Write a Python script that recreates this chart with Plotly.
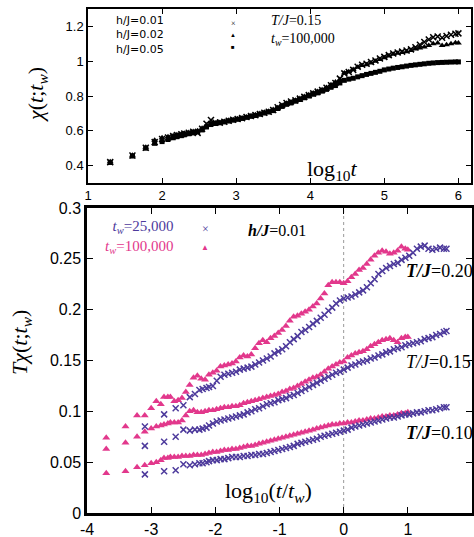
import numpy as np
import plotly.graph_objects as go

# ---------------- data ----------------
# time grid, log10(t)
log_t = [1.30, 1.60, 1.78, 1.90, 2.00, 2.08, 2.15, 2.20, 2.26, 2.30,
         2.36, 2.42, 2.48, 2.54, 2.60, 2.66, 2.72, 2.78, 2.84, 2.90,
         2.96, 3.02, 3.08, 3.14, 3.20, 3.26, 3.32, 3.38, 3.44, 3.50,
         3.56, 3.62, 3.68, 3.74, 3.80, 3.86, 3.92, 3.98, 4.04, 4.10,
         4.16, 4.22, 4.28, 4.34, 4.40, 4.46, 4.52, 4.58, 4.64, 4.70,
         4.76, 4.82, 4.88, 4.94, 5.00, 5.06, 5.12, 5.18, 5.24, 5.30,
         5.36, 5.42, 5.48, 5.54, 5.60, 5.66, 5.72, 5.78, 5.84, 5.90,
         5.96, 6.00]

# top panel: chi(t;tw), T/J=0.15, tw=100,000
chi_h001 = [0.420, 0.458, 0.503, 0.535, 0.553, 0.562, 0.570, 0.575, 0.580, 0.584,
            0.589, 0.594, 0.588, 0.612, 0.640, 0.662, 0.648, 0.647, 0.652, 0.658,
            0.663, 0.668, 0.673, 0.679, 0.685, 0.690, 0.697, 0.704, 0.710, 0.720,
            0.735, 0.748, 0.760, 0.768, 0.775, 0.785, 0.795, 0.805, 0.815, 0.825,
            0.835, 0.847, 0.862, 0.875, 0.900, 0.930, 0.938, 0.950, 0.968, 0.980,
            0.985, 0.995, 1.004, 1.015, 1.025, 1.035, 1.044, 1.050, 1.055, 1.062,
            1.068, 1.080, 1.095, 1.110, 1.125, 1.138, 1.142, 1.135, 1.145, 1.152,
            1.158, 1.160]
chi_h002 = [0.422, 0.460, 0.505, 0.545, 0.560, 0.566, 0.572, 0.577, 0.582, 0.586,
            0.590, 0.596, 0.600, 0.615, 0.632, 0.643, 0.645, 0.648, 0.654, 0.660,
            0.664, 0.669, 0.674, 0.680, 0.686, 0.692, 0.699, 0.706, 0.712, 0.722,
            0.733, 0.746, 0.758, 0.766, 0.776, 0.786, 0.797, 0.807, 0.817, 0.826,
            0.836, 0.849, 0.864, 0.880, 0.895, 0.932, 0.940, 0.952, 0.965, 0.975,
            0.980, 0.990, 1.000, 1.010, 1.020, 1.030, 1.040, 1.045, 1.050, 1.055,
            1.062, 1.070, 1.076, 1.082, 1.090, 1.100, 1.104, 1.090, 1.095, 1.100,
            1.106, 1.104]
chi_h005 = [0.418, 0.455, 0.500, 0.528, 0.538, 0.550, 0.560, 0.566, 0.572, 0.577,
            0.583, 0.588, 0.594, 0.605, 0.622, 0.636, 0.642, 0.646, 0.651, 0.656,
            0.661, 0.666, 0.671, 0.677, 0.683, 0.688, 0.695, 0.702, 0.708, 0.716,
            0.728, 0.740, 0.752, 0.760, 0.770, 0.780, 0.790, 0.800, 0.810, 0.818,
            0.828, 0.838, 0.850, 0.860, 0.875, 0.890, 0.897, 0.902, 0.910, 0.917,
            0.924, 0.930, 0.936, 0.942, 0.950, 0.955, 0.960, 0.964, 0.968, 0.972,
            0.976, 0.979, 0.982, 0.985, 0.988, 0.990, 0.992, 0.993, 0.994, 0.995,
            0.996, 0.996]

# bottom panel: T*chi(t;tw), h/J=0.01
tw_short = 25000
tw_long = 100000
tchi_T010_tw25k = [0.038, 0.041, 0.042, 0.048, 0.047, 0.048, 0.049, 0.049, 0.050, 0.051,
                   0.052, 0.052, 0.053, 0.053, 0.054, 0.055, 0.055, 0.055, 0.056, 0.056,
                   0.057, 0.057, 0.058, 0.058, 0.059, 0.060, 0.061, 0.062, 0.063, 0.064,
                   0.065, 0.066, 0.068, 0.069, 0.070, 0.071, 0.072, 0.073, 0.075, 0.076,
                   0.077, 0.078, 0.079, 0.080, 0.081, 0.082, 0.084, 0.085, 0.086, 0.087,
                   0.088, 0.089, 0.090, 0.091, 0.092, 0.093, 0.094, 0.094, 0.095, 0.096,
                   0.097, 0.097, 0.098, 0.099, 0.099, 0.100, 0.101, 0.101, 0.102, 0.103,
                   0.104, 0.104]
tchi_T010_tw100k = [0.039, 0.041, 0.045, 0.047, 0.049, 0.050, 0.052, 0.054, 0.054, 0.055,
                    0.055, 0.055, 0.056, 0.056, 0.056, 0.057, 0.057, 0.057, 0.058, 0.059,
                    0.060, 0.060, 0.061, 0.062, 0.062, 0.063, 0.063, 0.064, 0.065, 0.066,
                    0.066, 0.067, 0.068, 0.069, 0.070, 0.071, 0.072, 0.073, 0.074, 0.075,
                    0.076, 0.077, 0.078, 0.079, 0.080, 0.081, 0.082, 0.083, 0.084, 0.085,
                    0.086, 0.087, 0.087, 0.088, 0.088, 0.089, 0.089, 0.090, 0.091, 0.091,
                    0.092, 0.093, 0.093, 0.094, 0.095, 0.095, 0.096, 0.096, 0.097, 0.098,
                    0.098, 0.099]
tchi_T015_tw25k = [0.066, 0.070, 0.075, 0.082, 0.081, 0.082, 0.082, 0.083, 0.084, 0.086,
                   0.088, 0.090, 0.091, 0.092, 0.093, 0.094, 0.095, 0.096, 0.097, 0.099,
                   0.100, 0.102, 0.103, 0.105, 0.107, 0.108, 0.109, 0.111, 0.112, 0.113,
                   0.115, 0.116, 0.118, 0.120, 0.122, 0.124, 0.126, 0.128, 0.130, 0.132,
                   0.134, 0.136, 0.138, 0.139, 0.141, 0.143, 0.145, 0.146, 0.148, 0.149,
                   0.150, 0.152, 0.153, 0.155, 0.156, 0.158, 0.159, 0.161, 0.162, 0.163,
                   0.165, 0.166, 0.167, 0.168, 0.169, 0.171, 0.172, 0.173, 0.175, 0.176,
                   0.178, 0.179]
tchi_T015_tw100k = [0.063, 0.069, 0.075, 0.080, 0.083, 0.085, 0.086, 0.087, 0.088, 0.089,
                    0.089, 0.089, 0.091, 0.096, 0.100, 0.101, 0.099, 0.099, 0.100, 0.101,
                    0.101, 0.102, 0.103, 0.104, 0.104, 0.105, 0.105, 0.106, 0.108, 0.109,
                    0.110, 0.111, 0.112, 0.113, 0.114, 0.115, 0.116, 0.117, 0.119, 0.120,
                    0.122, 0.123, 0.125, 0.127, 0.129, 0.131, 0.133, 0.134, 0.136, 0.139,
                    0.142, 0.144, 0.146, 0.148, 0.149, 0.153, 0.155, 0.157, 0.158, 0.159,
                    0.161, 0.164, 0.166, 0.168, 0.170, 0.171, 0.172, 0.170, 0.168, 0.172,
                    0.173, 0.173]
tchi_T020_tw25k = [0.085, 0.097, 0.103, 0.106, 0.114, 0.117, 0.121, 0.122, 0.123, 0.124,
                   0.125, 0.130, 0.134, 0.136, 0.137, 0.138, 0.139, 0.141, 0.142, 0.143,
                   0.144, 0.146, 0.148, 0.150, 0.152, 0.154, 0.157, 0.159, 0.161, 0.164,
                   0.168, 0.171, 0.174, 0.178, 0.180, 0.183, 0.186, 0.189, 0.192, 0.195,
                   0.199, 0.202, 0.206, 0.209, 0.211, 0.212, 0.213, 0.215, 0.217, 0.219,
                   0.222, 0.226, 0.230, 0.235, 0.238, 0.241, 0.243, 0.245, 0.246, 0.249,
                   0.251, 0.253, 0.256, 0.260, 0.262, 0.263, 0.260, 0.259, 0.260, 0.261,
                   0.260, 0.260]
tchi_T020_tw100k = [0.074, 0.085, 0.096, 0.096, 0.103, 0.110, 0.107, 0.114, 0.114, 0.114,
                    0.110, 0.111, 0.113, 0.119, 0.126, 0.133, 0.135, 0.132, 0.131, 0.136,
                    0.138, 0.140, 0.144, 0.145, 0.146, 0.147, 0.149, 0.153, 0.155, 0.154,
                    0.156, 0.162, 0.167, 0.170, 0.168, 0.172, 0.174, 0.177, 0.180, 0.184,
                    0.189, 0.193, 0.194, 0.196, 0.198, 0.200, 0.203, 0.206, 0.211, 0.216,
                    0.224, 0.227, 0.227, 0.227, 0.226, 0.228, 0.232, 0.235, 0.239, 0.241,
                    0.245, 0.249, 0.253, 0.256, 0.258, 0.257, 0.255, 0.256, 0.258, 0.262,
                    0.260, 0.259]

top_xticks = [1, 2, 3, 4, 5, 6]
top_yticks = [0.4, 0.6, 0.8, 1.0, 1.2]
top_ytext = ["0.4", "0.6", "0.8", "1", "1.2"]
bot_xticks = [-4, -3, -2, -1, 0, 1, 2]
bot_xtext = ["-4", "-3", "-2", "-1", "0", "1", "2"]
bot_yticks = [0, 0.05, 0.1, 0.15, 0.2, 0.25, 0.3]
bot_ytext = ["0", "0.05", "0.1", "0.15", "0.2", "0.25", "0.3"]

# ---------------- style ----------------
PURPLE = "#4d3a9c"
PINK = "#e2388c"
W, H = 474, 537
SANS = "Liberation Sans, Arial, sans-serif"
SERIF = "Liberation Serif, Times New Roman, serif"

lt = np.array(log_t)
x_short = lt - np.log10(tw_short)
x_long = lt - np.log10(tw_long)

fig = go.Figure()

# top panel
top_series = [
    (chi_h005, "square", 5, 0),
    (chi_h002, "triangle-up", 6, 0),
    (chi_h001, "x-thin", 6, 1.5),
]
for ys, sym, sz, lw in top_series:
    fig.add_trace(go.Scatter(
        x=lt, y=ys, mode="markers", xaxis="x", yaxis="y",
        marker=dict(symbol=sym, size=sz, color="black",
                    line=dict(color="black", width=lw)),
        showlegend=False, hoverinfo="skip"))

# bottom panel
for ys in [tchi_T010_tw100k, tchi_T015_tw100k, tchi_T020_tw100k]:
    fig.add_trace(go.Scatter(
        x=x_long, y=ys, mode="markers", xaxis="x2", yaxis="y2",
        marker=dict(symbol="triangle-up", size=7, color=PINK, line=dict(width=0)),
        showlegend=False, hoverinfo="skip"))
for ys in [tchi_T010_tw25k, tchi_T015_tw25k, tchi_T020_tw25k]:
    fig.add_trace(go.Scatter(
        x=x_short, y=ys, mode="markers", xaxis="x2", yaxis="y2",
        marker=dict(symbol="x-thin", size=6, color=PURPLE,
                    line=dict(color=PURPLE, width=1.5)),
        showlegend=False, hoverinfo="skip"))

def px(v):
    return v / W

def py(v):
    return 1 - v / H

ax_common = dict(showgrid=False, zeroline=False, showline=True, mirror="allticks",
                 ticks="inside", linecolor="black", tickcolor="black", automargin=False)

fig.update_layout(
    width=W, height=H, autosize=False, margin=dict(l=0, r=0, t=0, b=0, pad=0),
    paper_bgcolor="white", plot_bgcolor="white",
    xaxis=dict(domain=[px(88), px(471)], range=[1, 6.17], anchor="y",
               tickvals=top_xticks, ticktext=[str(v) for v in top_xticks],
               linewidth=1.5, ticklen=5, tickwidth=1,
               tickfont=dict(family=SANS, size=13, color="black"), **ax_common),
    yaxis=dict(domain=[py(183), py(9)], range=[0.3, 1.3], anchor="x",
               tickvals=top_yticks, ticktext=top_ytext,
               linewidth=1.5, ticklen=5, tickwidth=1,
               tickfont=dict(family=SANS, size=13, color="black"), **ax_common),
    xaxis2=dict(domain=[px(87), px(472)], range=[-4, 2], anchor="y2",
                tickvals=bot_xticks, ticktext=bot_xtext,
                linewidth=2.5, ticklen=6, tickwidth=1,
                tickfont=dict(family=SANS, size=16, color="black"), **ax_common),
    yaxis2=dict(domain=[py(513), py(208)], range=[0, 0.3], anchor="x2",
                tickvals=bot_yticks, ticktext=bot_ytext,
                linewidth=2.5, ticklen=6, tickwidth=1,
                tickfont=dict(family=SANS, size=16, color="black"), **ax_common),
)

# dotted reference line at log10(t/tw)=0
fig.add_shape(type="line", xref="x2", yref="y2 domain", x0=0, x1=0, y0=0, y1=1,
              line=dict(color="#9a9a9a", width=1, dash="dot"), layer="below")

def ann(text, x, y, size, color="black", family=SERIF, xanchor="left", angle=0, align="left"):
    fig.add_annotation(text=text, x=px(x), y=py(y), xref="paper", yref="paper",
                       xanchor=xanchor, yanchor="middle", showarrow=False, align=align,
                       textangle=angle, borderpad=0,
                       font=dict(family=family, size=size, color=color))

# top labels
ann("<i>χ</i>(<i>t</i>;<i>t</i><sub><i>w</i></sub>)", 37, 95, 22, xanchor="center", angle=-90)
ann("log<sub>10</sub><i>t</i>", 332, 170, 22, xanchor="center")
ann("h/J=0.01<br>h/J=0.02<br>h/J=0.05", 115, 35, 11, family="DejaVu Sans, sans-serif")
ann("×", 233, 24, 8, xanchor="center")
ann("▲", 233, 35, 6, xanchor="center")
ann("■", 233, 47, 6, xanchor="center")
ann("<i>T/J</i>=0.15<br><i>t<sub>w</sub></i>=100,000", 270, 31, 14)

# bottom labels
ann("<i>T</i><i>χ</i>(<i>t</i>;<i>t</i><sub><i>w</i></sub>)", 21, 343, 22, xanchor="center", angle=-90)
ann("log<sub>10</sub>(<i>t</i>/<i>t</i><sub><i>w</i></sub>)", 268, 492, 22, xanchor="center")
ann(f"<span style='color:{PURPLE}'><i>t<sub>w</sub></i>=25,000</span><br>"
    f"<span style='color:{PINK}'><i>t<sub>w</sub></i>=100,000</span>",
    174, 237, 15, xanchor="right", align="right")
ann("×", 205, 229, 12, color=PURPLE, xanchor="center")
ann("▲", 205, 247, 8, color=PINK, xanchor="center")
ann("<b><i>h/J</i></b>=0.01", 247, 230, 16)
ann("<b><i>T/J</i></b>=0.20", 405, 271, 18)
ann("<i>T/J</i>=0.15", 405, 362, 18)
ann("<b><i>T/J</i></b>=0.10", 405, 433, 18)

fig.write_html("out.html", config={"displayModeBar": False},
               post_script="document.body.style.margin='0';document.body.style.overflow='hidden';")
